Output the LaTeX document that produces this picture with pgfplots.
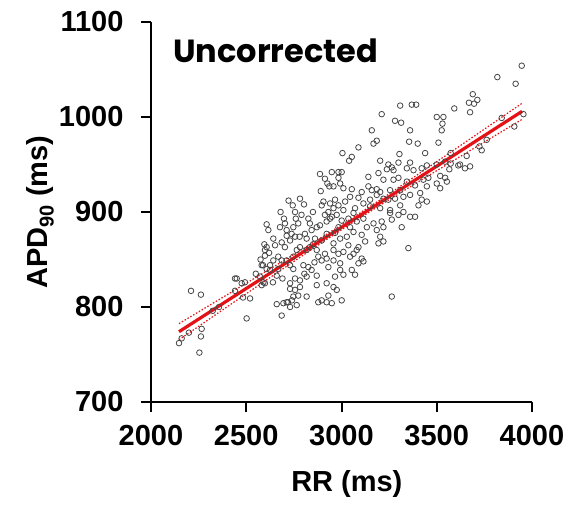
\documentclass[border=0pt]{standalone}
\usepackage{fontspec}
\setmainfont{Liberation Sans}
\newfontfamily\titlefont{Poppins}
\usepackage{pgfplots}
\pgfplotsset{compat=1.18}
\usepackage{pgfplotstable}
\definecolor{fitred}{RGB}{228,18,22}
\definecolor{ptgray}{RGB}{70,70,70}

\pgfplotstableread{
rr apd
2147 762
2161 767
2199 773
2266 777
2262 769
2254 752
2210 817
2262 813
2324 796
2357 800
2450 830
2441 817
2887 940
2913 935
2926 930
2891 922
2936 927
2782 914
2803 908
2744 907
2756 900
2905 911
2896 907
2931 900
2913 897
2607 887
2616 881
2677 884
2703 888
2712 881
2747 884
2773 888
2834 888
2843 881
2870 884
2887 886
2922 890
2922 877
2896 870
2861 872
2817 872
2808 877
2756 874
2738 877
2712 875
2730 870
2642 872
2651 865
2686 868
2703 863
2607 863
2598 860
2598 854
2642 849
2668 853
2686 849
2712 849
2747 853
2765 860
2782 863
2817 860
2834 863
2870 860
2878 853
2913 856
2896 849
2922 851
2581 844
2607 840
2625 839
2572 832
2590 826
2660 833
2668 840
2730 844
2747 840
2800 844
2826 842
2843 839
2756 830
2782 828
2817 832
2870 833
2931 842
2476 825
2493 826
2520 809
2581 823
2598 825
2730 825
2730 819
2756 818
2747 811
2773 812
2782 821
2712 805
2695 804
2817 811
2870 823
2922 825
2896 807
2931 812
2660 803
2686 791
2730 800
2765 802
2502 788
2878 805
2922 805
2441 830
2483 810
2588 844
2625 844
2719 805
2740 807
2595 866
2620 857
2698 893
2760 893
2790 897
2851 866
2858 847
2805 835
2690 830
2640 826
2550 835
2575 850
2780 874
2826 893
2850 900
2940 893
2680 900
2722 912
3308 1012
3369 1013
3392 1013
3211 1003
3281 996
3313 994
3360 986
3500 1000
3535 1000
3530 993
3526 986
3159 986
3185 975
3168 972
3355 974
3400 972
3509 973
3005 962
3054 958
3040 954
3089 968
3304 961
3439 962
3203 954
3246 950
3264 947
3299 952
3238 945
3273 944
3343 946
3360 952
3378 944
3421 946
3448 949
3500 950
3544 953
2949 942
2984 942
3001 942
2984 936
2993 930
2958 927
3010 925
3054 924
3141 937
3194 941
3220 934
3273 934
3299 936
3343 932
3386 928
3430 934
3456 936
3448 927
3518 938
3544 936
3553 932
3500 930
3518 925
3106 921
3141 927
3159 923
3185 924
3203 921
3255 923
3308 923
2940 909
2966 913
2984 907
3019 911
3045 916
3089 915
3115 909
3150 913
3185 918
3220 914
3246 913
3281 914
3325 916
3360 918
3413 920
3421 913
3404 907
3448 911
3308 907
3255 902
3203 904
3150 906
3071 904
3010 902
2958 904
2949 895
2975 897
3001 891
3036 893
3063 899
3080 890
3115 893
3168 888
3211 890
3255 899
3264 892
3299 897
3325 900
3360 895
3386 895
3316 884
3133 884
3185 881
3220 884
3045 884
2984 884
2966 878
2993 872
3028 874
3063 879
3106 876
3124 869
3203 874
3220 869
3194 867
3351 862
3089 863
3036 865
2958 867
2958 860
2984 856
3010 858
3045 853
3063 856
3080 860
3106 851
3115 848
3089 846
2993 846
2958 849
2993 839
3054 839
3071 834
2966 832
3010 834
2958 821
2975 818
3001 807
3264 811
2949 804
3946 1054
3818 1042
3914 1035
3689 1024
3669 1015
3696 1014
3713 1018
3675 1005
3592 1009
3841 999
3955 1003
3907 990
3762 976
3736 965
3724 969
3657 959
3675 948
3648 946
3622 950
3613 949
3573 951
3566 945
3573 962
}\pts

\pgfplotstableread{
rr fit upper lower
2147 774.0 782.5 765.5
2300 793.7 800.9 786.5
2500 819.5 825.0 814.0
2700 845.2 849.2 841.2
2900 871.0 873.8 868.2
3050 890.3 892.8 887.8
3200 909.6 912.4 906.8
3400 935.4 939.4 931.4
3600 961.1 966.6 955.6
3800 986.9 994.1 979.7
3948 1006.0 1014.5 997.5
}\fit

\begin{document}
\begin{tikzpicture}
\begin{axis}[
  name=ax,
  at={(0pt,0pt)}, anchor=south west,
  scale only axis,
  width=381pt, height=380pt,
  xmin=2000, xmax=4000, ymin=700, ymax=1100,
  xtick={2000,2500,3000,3500,4000},
  ytick={700,800,900,1000,1100},
  ticks=both,
  axis x line=bottom, axis y line=left,
  axis line style={line width=2pt,-},
  xtick align=outside, ytick align=outside,
  major tick length=10pt,
  tick style={draw=black, line width=2pt},
  /pgf/number format/1000 sep={},
  /pgf/number format/assume math mode=true,
  tick label style={font=\fontsize{29}{30}\selectfont\bfseries},
  xticklabel style={yshift=-10pt},
  yticklabel style={xshift=-14pt},
  xlabel={RR (ms)},
  label style={font=\fontsize{29}{32}\selectfont\bfseries},
  xlabel style={at={(rel axis cs:0.514,0)}, anchor=center, yshift=-82pt},
  clip=false,
]
\addplot[only marks, mark=o, mark size=2.8pt, mark options={draw=ptgray, line width=0.8pt}] table[x=rr,y=apd]{\pts};
\addplot[fitred, line width=3.2pt] table[x=rr,y=fit]{\fit};
\addplot[fitred, line width=1.2pt, dash pattern=on 1.5pt off 1.8pt] table[x=rr,y=upper]{\fit};
\addplot[fitred, line width=1.2pt, dash pattern=on 1.5pt off 1.8pt] table[x=rr,y=lower]{\fit};
\pgfplotsinvokeforeach{2000,2500,3000,3500,4000}{
  \draw[black, line width=2pt] (axis cs:#1,700) -- ([yshift=-10pt]axis cs:#1,700);
}
\pgfplotsinvokeforeach{700,800,900,1000,1100}{
  \draw[black, line width=2pt] (axis cs:2000,#1) -- ([xshift=-10pt]axis cs:2000,#1);
}
\node[anchor=west, font=\titlefont\bfseries\fontsize{32}{34}\selectfont, inner sep=0pt] at ([xshift=22pt,yshift=-29pt]rel axis cs:0,1) {Uncorrected};
\node[rotate=90, anchor=center, font=\fontsize{29}{32}\selectfont\bfseries] at ([xshift=-111pt]rel axis cs:0,0.5) {APD\raisebox{-0.22em}{\fontsize{20}{20}\selectfont 90} (ms)};
\end{axis}
\pgfresetboundingbox
\path (-151pt,-102pt) rectangle (424pt,402pt);
\end{tikzpicture}
\end{document}
